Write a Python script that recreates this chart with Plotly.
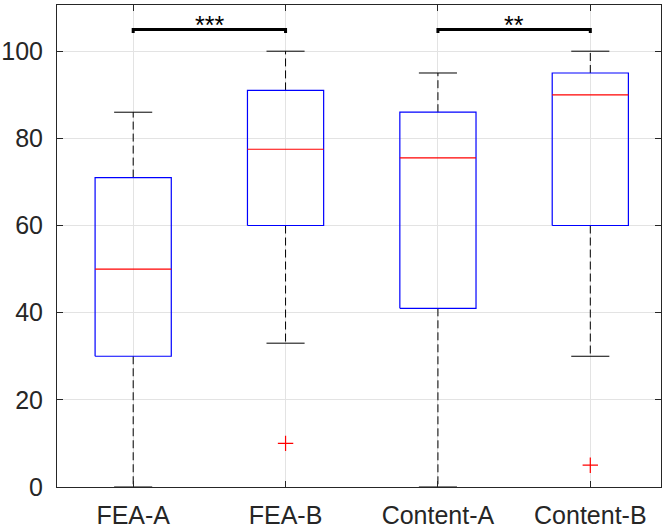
import plotly.graph_objects as go

categories = ["FEA-A", "FEA-B", "Content-A", "Content-B"]
whisker_low = [0, 33, 0, 30]
q1 = [30, 60, 41, 60]
median = [50, 77.5, 75.5, 90]
q3 = [71, 91, 86, 95]
whisker_high = [86, 100, 95, 100]
outlier_x = [2, 4]
outlier_y = [10, 5]
sig_pairs = [(1, 2), (3, 4)]
sig_labels = ["***", "**"]
sig_level = 105
yticks = [0, 20, 40, 60, 80, 100]

BOX_HALF = 0.25
CAP_HALF = 0.125
FONT = "Liberation Sans, Arial, Helvetica, sans-serif"

fig = go.Figure()

for i, name in enumerate(categories):
    x = i + 1
    # whiskers (dashed)
    fig.add_trace(go.Scatter(x=[x, x], y=[q3[i], whisker_high[i]], mode="lines",
                             line=dict(color="black", width=1, dash="8px,4px"),
                             hoverinfo="skip", showlegend=False))
    fig.add_trace(go.Scatter(x=[x, x], y=[q1[i], whisker_low[i]], mode="lines",
                             line=dict(color="black", width=1, dash="8px,4px"),
                             hoverinfo="skip", showlegend=False))
    # caps
    for v in (whisker_high[i], whisker_low[i]):
        fig.add_trace(go.Scatter(x=[x - CAP_HALF, x + CAP_HALF], y=[v, v], mode="lines",
                                 line=dict(color="black", width=1),
                                 hoverinfo="skip", showlegend=False))
    # box
    fig.add_trace(go.Scatter(
        x=[x - BOX_HALF, x + BOX_HALF, x + BOX_HALF, x - BOX_HALF, x - BOX_HALF],
        y=[q1[i], q1[i], q3[i], q3[i], q1[i]], mode="lines",
        line=dict(color="#0000ff", width=1.2), hoverinfo="skip", showlegend=False))
    # median
    fig.add_trace(go.Scatter(x=[x - BOX_HALF, x + BOX_HALF], y=[median[i], median[i]],
                             mode="lines", line=dict(color="#ff0000", width=1.2),
                             hoverinfo="skip", showlegend=False))

fig.add_trace(go.Scatter(x=outlier_x, y=outlier_y, mode="markers",
                         marker=dict(symbol="cross-thin", size=11,
                                     line=dict(color="#ff0000", width=1.2)),
                         hoverinfo="skip", showlegend=False))

for (a, b), lab in zip(sig_pairs, sig_labels):
    fig.add_trace(go.Scatter(x=[a, a, b, b], y=[sig_level - 0.8, sig_level, sig_level, sig_level - 0.8],
                             mode="lines", line=dict(color="black", width=3),
                             hoverinfo="skip", showlegend=False))
    fig.add_annotation(x=(a + b) / 2, y=sig_level, text=lab, showarrow=False,
                       yanchor="bottom", yshift=-12,
                       font=dict(family=FONT, size=25, color="black"))

fig.update_layout(
    width=662, height=529,
    margin=dict(l=57, r=1, t=5, b=42),
    paper_bgcolor="white", plot_bgcolor="white",
    font=dict(family=FONT, size=25, color="#262626"),
    xaxis=dict(range=[0.5, 4.464], tickvals=[1, 2, 3, 4], ticktext=categories,
               showgrid=True, gridcolor="#e3e3e3", gridwidth=1,
               ticks="inside", ticklen=6, tickcolor="#262626",
               showline=True, linecolor="#262626", linewidth=1, mirror="ticks",
               zeroline=False, ticklabelstandoff=6, automargin=False),
    yaxis=dict(range=[0, 110.6], tickvals=yticks,
               showgrid=True, gridcolor="#e3e3e3", gridwidth=1,
               ticks="inside", ticklen=6, tickcolor="#262626",
               showline=True, linecolor="#262626", linewidth=1, mirror="ticks",
               zeroline=False, ticklabelstandoff=8, automargin=False),
)

fig.write_html("out.html", config={"displayModeBar": False},
               post_script="document.body.style.margin='0';")
